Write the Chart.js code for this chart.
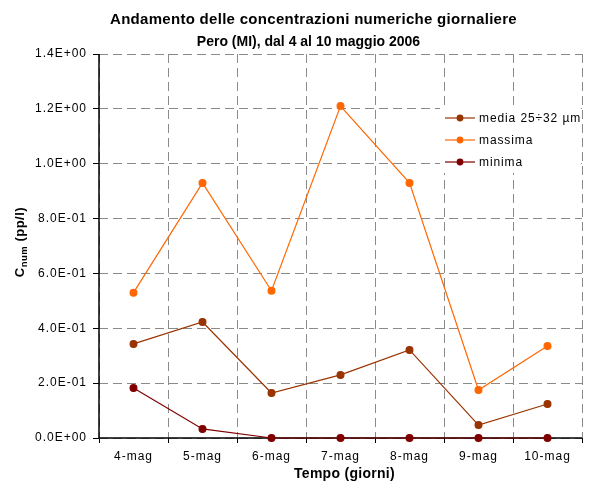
<!DOCTYPE html>
<html><head><meta charset="utf-8">
<script src="https://cdn.jsdelivr.net/npm/chart.js@4/dist/chart.umd.min.js"></script>
<style>html,body{margin:0;padding:0;background:#fff}#wrap{width:595px;height:484px}</style>
</head><body><div id="wrap"><canvas id="c" width="595" height="484"></canvas></div>
<script>
const categories = ['4-mag','5-mag','6-mag','7-mag','8-mag','9-mag','10-mag'];
const media = [0.343, 0.423, 0.164, 0.230, 0.321, 0.047, 0.124];
const massima = [0.530, 0.930, 0.537, 1.210, 0.930, 0.175, 0.335];
const minima = [0.182, 0.033, 0.0, 0.0, 0.0, 0.0, 0.0];
const seriesNames = ['media 25\u00F732 \u00B5m', 'massima', 'minima'];
const titleLines = ['Andamento delle concentrazioni numeriche giornaliere', 'Pero (MI), dal 4 al 10 maggio 2006'];
const xTitle = 'Tempo (giorni)';
const colors = ['#993300', '#FF6600', '#800000'];
const FONT = "'Liberation Sans', Arial, sans-serif";

function fmtE(v){
  if (Math.abs(v) < 1e-12) return '0.0E+00';
  const e = Math.floor(Math.log10(Math.abs(v)) + 1e-9);
  const m = v / Math.pow(10, e);
  const sign = e < 0 ? '-' : '+';
  return m.toFixed(1) + 'E' + sign + String(Math.abs(e)).padStart(2,'0');
}

function fitText(ctx, text, cx, cy, targetW){
  ctx.letterSpacing = '0px';
  const w = ctx.measureText(text).width;
  const n = [...text].length;
  const ls = Math.max(0, (targetW - w) / n);
  ctx.letterSpacing = ls + 'px';
  const w2 = ctx.measureText(text).width;
  ctx.textAlign = 'left';
  ctx.fillText(text, cx - w2/2, cy);
  ctx.letterSpacing = '0px';
}

const decor = {
  id: 'decor',
  beforeDraw(chart){
    chart.ctx.letterSpacing = '1px';
  },
  beforeDatasetsDraw(chart){
    const ctx = chart.ctx, ca = chart.chartArea;
    ctx.save();
    ctx.letterSpacing = '0px';
    ctx.strokeStyle = '#000';
    ctx.lineWidth = 1.5;
    ctx.setLineDash([]);
    ctx.beginPath();
    ctx.moveTo(ca.left, ca.top);
    ctx.lineTo(ca.left, ca.bottom);
    ctx.lineTo(ca.right, ca.bottom);
    ctx.stroke();
    ctx.restore();
  },
  afterDraw(chart){
    const ctx = chart.ctx;
    ctx.letterSpacing = '0px';
    ctx.save();
    // titles
    ctx.fillStyle = '#000';
    ctx.textBaseline = 'middle';
    ctx.font = 'bold 15px ' + FONT;
    fitText(ctx, titleLines[0], 313.5, 20, 407);
    ctx.font = 'bold 14px ' + FONT;
    fitText(ctx, titleLines[1], 308.5, 42.5, 221);
    // x title
    ctx.font = 'bold 14px ' + FONT;
    fitText(ctx, xTitle, 344.5, 474, 101);
    // y title with subscript
    ctx.translate(19, 242);
    ctx.rotate(-Math.PI/2);
    ctx.textAlign = 'left';
    ctx.textBaseline = 'alphabetic';
    ctx.letterSpacing = '0.5px';
    const p1 = 'C', p2 = 'num', p3 = ' (pp/l)';
    ctx.font = 'bold 13px ' + FONT; const w1 = ctx.measureText(p1).width;
    ctx.font = 'bold 9.5px ' + FONT; const w2 = ctx.measureText(p2).width;
    ctx.font = 'bold 13px ' + FONT; const w3 = ctx.measureText(p3).width;
    let x0 = -(w1 + w2 + w3)/2;
    ctx.font = 'bold 13px ' + FONT; ctx.fillText(p1, x0, 5); x0 += w1;
    ctx.font = 'bold 9.5px ' + FONT; ctx.fillText(p2, x0, 8); x0 += w2;
    ctx.font = 'bold 13px ' + FONT; ctx.fillText(p3, x0, 5);
    ctx.restore();
    // legend
    ctx.save();
    ctx.fillStyle = '#fff';
    ctx.fillRect(440, 105, 141, 68);
    const ys = [118, 140, 162];
    ctx.font = '12px ' + FONT;
    ctx.textBaseline = 'middle';
    ctx.textAlign = 'left';
    ctx.letterSpacing = '0.9px';
    [0,1,2].forEach((k,i)=>{
      ctx.strokeStyle = colors[k]; ctx.lineWidth = 1.2;
      ctx.beginPath(); ctx.moveTo(445, ys[i]); ctx.lineTo(475, ys[i]); ctx.stroke();
      ctx.fillStyle = colors[k];
      ctx.beginPath(); ctx.arc(460, ys[i], 3.4, 0, Math.PI*2); ctx.fill();
      ctx.fillStyle = '#000';
      ctx.fillText(seriesNames[k], 479, ys[i]+1);
    });
    ctx.letterSpacing = '0px';
    ctx.restore();
  }
};

const mk = (label, data, c) => ({
  label, data, borderColor: c, backgroundColor: c,
  pointBackgroundColor: c, pointBorderColor: c,
  pointRadius: 3.4, pointHoverRadius: 3.4, borderWidth: 1.2, tension: 0, clip: false
});

new Chart(document.getElementById('c'), {
  type: 'line',
  data: {
    labels: categories,
    datasets: [mk(seriesNames[0], media, colors[0]), mk(seriesNames[1], massima, colors[1]), mk(seriesNames[2], minima, colors[2])]
  },
  options: {
    responsive: false,
    animation: false,
    devicePixelRatio: 1,
    layout: { padding: { left: 0, right: 13, top: 54, bottom: 0 } },
    plugins: { legend: { display: false }, title: { display: false }, tooltip: { enabled: false } },
    scales: {
      x: {
        offset: true,
        grid: { offset: true, color: '#8a8a8a', lineWidth: 1, tickLength: 5, tickColor: '#000', tickBorderDash: [] },
        border: { display: false, dash: [9,5] },
        ticks: { color: '#000', font: { family: FONT, size: 12 }, padding: 6, maxRotation: 0, autoSkip: false },
        afterFit(s){ s.height = 46; }
      },
      y: {
        min: 0, max: 1.4,
        ticks: { stepSize: 0.2, color: '#000', font: { family: FONT, size: 12 }, padding: 6,
          callback: (v) => fmtE(v) },
        grid: { color: '#8a8a8a', lineWidth: 1, tickLength: 6, tickColor: '#000', tickBorderDash: [] },
        border: { display: false, dash: [9,5] },
        afterFit(s){ s.width = 99; }
      }
    }
  },
  plugins: [decor]
});
</script>
</body></html>
